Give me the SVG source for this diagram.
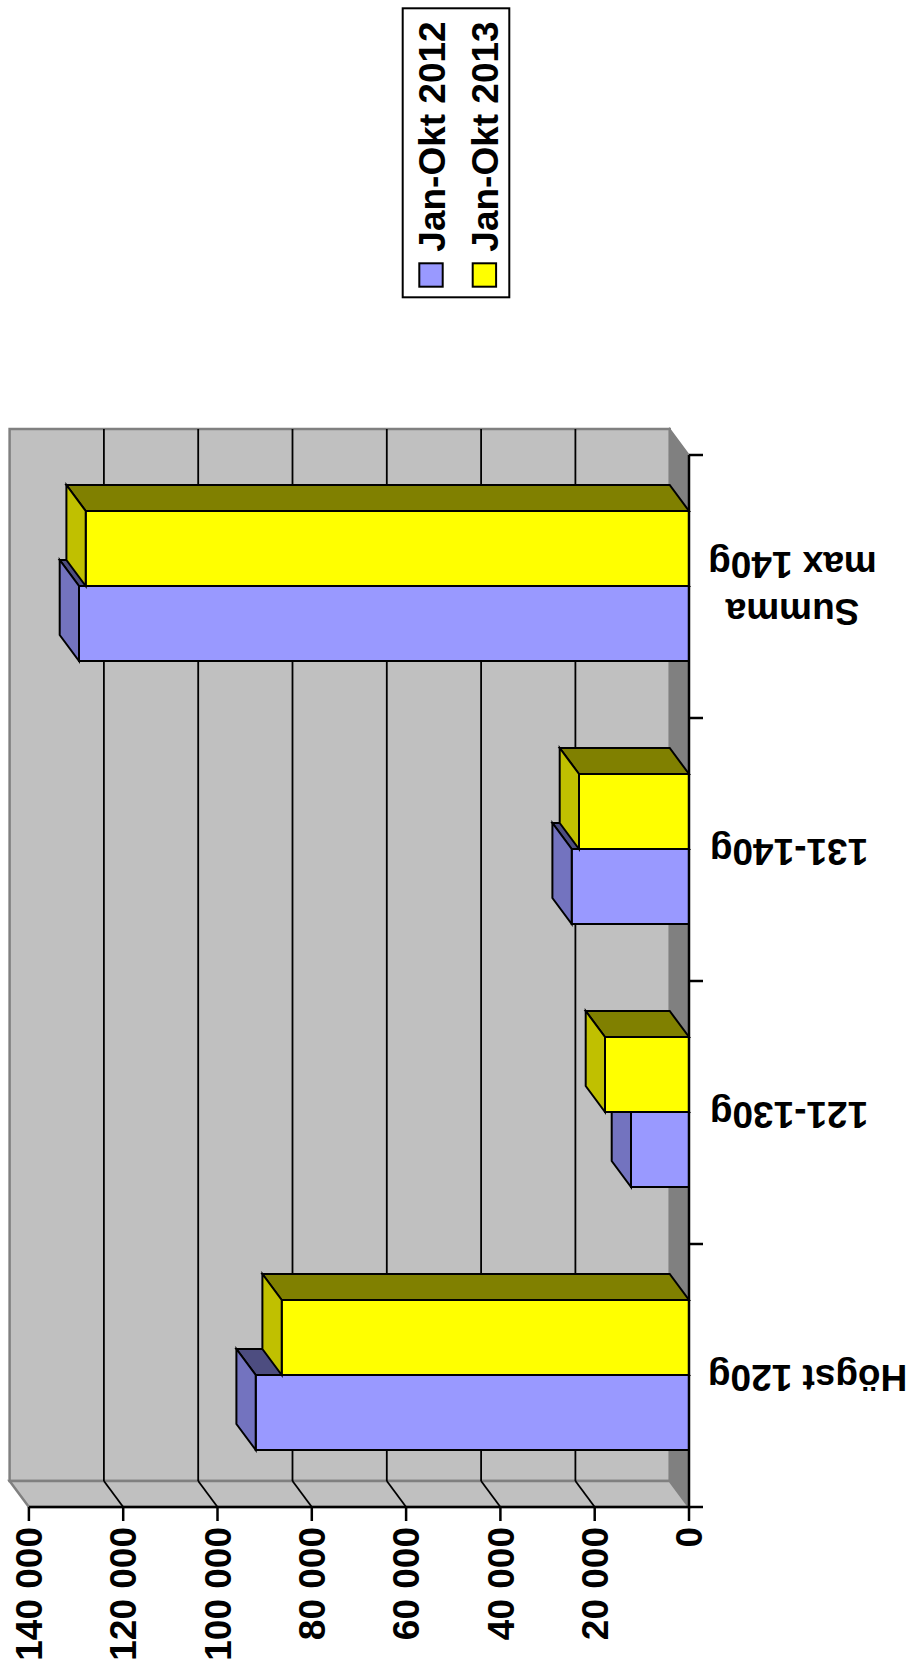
<svg xmlns="http://www.w3.org/2000/svg" width="916" height="1673" viewBox="0 0 916 1673">
<style>
text{font-family:"Liberation Sans",Arial,sans-serif;font-weight:bold;font-size:37px;fill:#000}
.wall{fill:#C0C0C0;stroke:#808080;stroke-width:2.5}
.side{fill:#808080;stroke:#808080;stroke-width:1.5}
.grid{stroke:#000;stroke-width:1.8;fill:none}
.axis{stroke:#000;stroke-width:2.5;fill:none}
.bar{stroke:#000;stroke-width:2;stroke-linejoin:miter}
.bf{fill:#9999FF}.bs{fill:#7373BF}.bt{fill:#4D4D80}
.yf{fill:#FFFF00}.ys{fill:#C0C000}.yt{fill:#808000}
</style>
<g id="plot-walls">
<rect class="wall" x="9.6" y="429" width="660.1" height="1052"/>
<polygon class="side" points="669.7,429 689,455 689,1507 669.7,1481"/>
<polygon class="wall" points="9.6,1481 669.7,1481 689,1507 28.9,1507"/>
</g>
<g id="gridlines" class="grid">
<line x1="575.4" y1="429" x2="575.4" y2="1481"/>
<line x1="481.1" y1="429" x2="481.1" y2="1481"/>
<line x1="386.8" y1="429" x2="386.8" y2="1481"/>
<line x1="292.5" y1="429" x2="292.5" y2="1481"/>
<line x1="198.2" y1="429" x2="198.2" y2="1481"/>
<line x1="103.9" y1="429" x2="103.9" y2="1481"/>
<line x1="575.4" y1="1481" x2="594.7" y2="1507"/>
<line x1="481.1" y1="1481" x2="500.4" y2="1507"/>
<line x1="386.8" y1="1481" x2="406.1" y2="1507"/>
<line x1="292.5" y1="1481" x2="311.8" y2="1507"/>
<line x1="198.2" y1="1481" x2="217.5" y2="1507"/>
<line x1="103.9" y1="1481" x2="123.2" y2="1507"/>
</g>
<g id="bar-summa-2012" class="bar">
<rect class="bf" x="79" y="586" width="610" height="75"/>
<polygon class="bt" points="79,586 689,586 669.7,560 59.7,560"/>
<polygon class="bs" points="79,586 59.7,560 59.7,635 79,661"/>
</g>
<g id="bar-summa-2013" class="bar">
<rect class="yf" x="85.7" y="511" width="603.3" height="75"/>
<polygon class="yt" points="85.7,511 689,511 669.7,485 66.4,485"/>
<polygon class="ys" points="85.7,511 66.4,485 66.4,560 85.7,586"/>
</g>
<g id="bar-131-2012" class="bar">
<rect class="bf" x="571.7" y="849" width="117.3" height="75"/>
<polygon class="bt" points="571.7,849 689,849 669.7,823 552.4,823"/>
<polygon class="bs" points="571.7,849 552.4,823 552.4,898 571.7,924"/>
</g>
<g id="bar-131-2013" class="bar">
<rect class="yf" x="579" y="774" width="110" height="75"/>
<polygon class="yt" points="579,774 689,774 669.7,748 559.7,748"/>
<polygon class="ys" points="579,774 559.7,748 559.7,823 579,849"/>
</g>
<g id="bar-121-2012" class="bar">
<rect class="bf" x="631" y="1112" width="58" height="75"/>
<polygon class="bt" points="631,1112 689,1112 669.7,1086 611.7,1086"/>
<polygon class="bs" points="631,1112 611.7,1086 611.7,1161 631,1187"/>
</g>
<g id="bar-121-2013" class="bar">
<rect class="yf" x="605" y="1037" width="84" height="75"/>
<polygon class="yt" points="605,1037 689,1037 669.7,1011 585.7,1011"/>
<polygon class="ys" points="605,1037 585.7,1011 585.7,1086 605,1112"/>
</g>
<g id="bar-hogst-2012" class="bar">
<rect class="bf" x="255.7" y="1375" width="433.3" height="75"/>
<polygon class="bt" points="255.7,1375 689,1375 669.7,1349 236.4,1349"/>
<polygon class="bs" points="255.7,1375 236.4,1349 236.4,1424 255.7,1450"/>
</g>
<g id="bar-hogst-2013" class="bar">
<rect class="yf" x="281.7" y="1300" width="407.3" height="75"/>
<polygon class="yt" points="281.7,1300 689,1300 669.7,1274 262.4,1274"/>
<polygon class="ys" points="281.7,1300 262.4,1274 262.4,1349 281.7,1375"/>
</g>
<g id="axes" class="axis">
<line x1="689" y1="455" x2="689" y2="1507"/>
<line x1="28.9" y1="1507" x2="703" y2="1507"/>
<line x1="689" y1="455" x2="703" y2="455"/>
<line x1="689" y1="718" x2="703" y2="718"/>
<line x1="689" y1="981" x2="703" y2="981"/>
<line x1="689" y1="1244" x2="703" y2="1244"/>
<line x1="689" y1="1507" x2="689" y2="1521"/>
<line x1="594.7" y1="1507" x2="594.7" y2="1521"/>
<line x1="500.4" y1="1507" x2="500.4" y2="1521"/>
<line x1="406.1" y1="1507" x2="406.1" y2="1521"/>
<line x1="311.8" y1="1507" x2="311.8" y2="1521"/>
<line x1="217.5" y1="1507" x2="217.5" y2="1521"/>
<line x1="123.2" y1="1507" x2="123.2" y2="1521"/>
<line x1="28.9" y1="1507" x2="28.9" y2="1521"/>
</g>
<g id="value-labels" text-anchor="end">
<text transform="translate(702.2,1527) rotate(-90)">0</text>
<text transform="translate(607.9,1527) rotate(-90)">20 000</text>
<text transform="translate(513.6,1527) rotate(-90)">40 000</text>
<text transform="translate(419.3,1527) rotate(-90)">60 000</text>
<text transform="translate(325,1527) rotate(-90)">80 000</text>
<text transform="translate(230.7,1527) rotate(-90)">100 000</text>
<text transform="translate(136.4,1527) rotate(-90)">120 000</text>
<text transform="translate(42.1,1527) rotate(-90)">140 000</text>
</g>
<g id="category-labels" text-anchor="middle">
<text transform="translate(792.5,599) rotate(180)">Summa</text>
<text transform="translate(792.5,552) rotate(180)">max 140g</text>
<text transform="translate(789,839) rotate(180)">131-140g</text>
<text transform="translate(789,1102) rotate(180)">121-130g</text>
<text transform="translate(807.6,1365) rotate(180)">Högst 120g</text>
</g>
<g id="legend">
<rect x="402.7" y="8.3" width="106.6" height="289" fill="#fff" stroke="#000" stroke-width="2"/>
<rect x="419.3" y="263.3" width="23.4" height="23.4" fill="#9999FF" stroke="#000" stroke-width="2"/>
<rect x="472.7" y="263.3" width="23.4" height="23.4" fill="#FFFF00" stroke="#000" stroke-width="2"/>
<text transform="translate(445,251.7) rotate(-90)">Jan-Okt 2012</text>
<text transform="translate(498.3,251.7) rotate(-90)">Jan-Okt 2013</text>
</g>
</svg>
